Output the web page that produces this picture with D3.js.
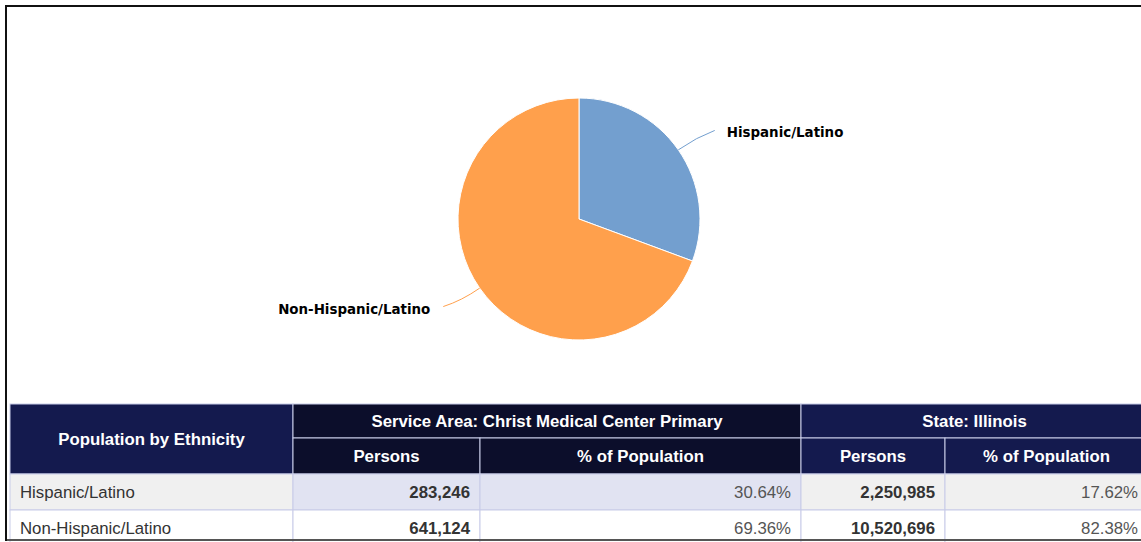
<!DOCTYPE html>
<html><head><meta charset="utf-8">
<script src="https://cdn.jsdelivr.net/npm/d3@7"></script>
<style>
html,body{margin:0;padding:0;background:#fff;}
svg{display:block;}
</style></head>
<body>
<svg id="chart" width="1141" height="542"></svg>
<script>
// ---- data ----
const categories = ["Hispanic/Latino", "Non-Hispanic/Latino"];
const servicePersons = [283246, 641124];
const servicePct = ["30.64%", "69.36%"];
const statePersons = [2250985, 10520696];
const statePct = ["17.62%", "82.38%"];
const sliceColors = ["#739fcf", "#ffa04c"];
const headerTitle = "Population by Ethnicity";
const groupHeaders = ["Service Area: Christ Medical Center Primary", "State: Illinois"];
const subHeaders = ["Persons", "% of Population", "Persons", "% of Population"];

const svg = d3.select("#chart");
const W = 1141, H = 542;

// outer frame
svg.append("rect").attr("x", 6).attr("y", 6).attr("width", W + 20).attr("height", 534)
  .attr("fill", "#fff").attr("stroke", "#111").attr("stroke-width", 2);

// ---- pie ----
const cx = 579, cy = 219, R = 121;
const pie = d3.pie().sort(null).value(d => d)(servicePersons);
const arc = d3.arc().innerRadius(0).outerRadius(R);
const g = svg.append("g").attr("transform", `translate(${cx},${cy})`);
g.selectAll("path.slice").data(pie).join("path").attr("class", "slice")
  .attr("d", arc).attr("fill", (d, i) => sliceColors[i])
  .attr("stroke", "#fff").attr("stroke-width", 1).attr("stroke-linejoin", "round");

// connectors + labels
pie.forEach((d, i) => {
  const a = (d.startAngle + d.endAngle) / 2;
  const sx = Math.sin(a), sy = -Math.cos(a);
  const p0 = [R * sx, R * sy];
  const right = sx > 0;
  const c1 = [(R + 22) * sx, (R + 22) * sy];
  const p1 = [(R + 20) * sx + (right ? 20 : -20), (R + 20) * sy + (right ? -8 : 7)];
  g.append("path")
    .attr("d", `M${p0[0]},${p0[1]} Q${c1[0]},${c1[1]} ${p1[0]},${p1[1]}`)
    .attr("fill", "none").attr("stroke", sliceColors[i]).attr("stroke-width", 1);
  g.append("text")
    .attr("x", p1[0] + (right ? 12 : -13)).attr("y", p1[1] + 7)
    .attr("text-anchor", right ? "start" : "end")
    .attr("font-family", "DejaVu Sans").attr("font-weight", "bold").attr("font-size", 13.4)
    .attr("fill", "#000").text(categories[i]);
});

// ---- table ----
const colX = [10, 293, 480, 801, 945, 1148];
const rowY = [404, 438, 474, 510, 546];
const navy = "#141a4e", darker = "#0c0e2b", gridC = "#c8cbe8";
const t = svg.append("g").attr("font-family", "Liberation Sans, Arial, sans-serif").attr("font-size", 16.8);

function cell(x0, x1, y0, y1, fill) {
  t.append("rect").attr("x", x0).attr("y", y0).attr("width", x1 - x0).attr("height", y1 - y0)
    .attr("fill", fill).attr("stroke", gridC).attr("stroke-width", 1);
}
function txt(x, y, s, anchor, weight, color) {
  t.append("text").attr("x", x).attr("y", y).attr("text-anchor", anchor)
    .attr("font-weight", weight).attr("fill", color).text(s);
}
// header
cell(colX[0], colX[1], rowY[0], rowY[2], navy);
txt((colX[0] + colX[1]) / 2, (rowY[0] + rowY[2]) / 2 + 6, headerTitle, "middle", "bold", "#fff");
cell(colX[1], colX[3], rowY[0], rowY[1], darker);
txt((colX[1] + colX[3]) / 2, (rowY[0] + rowY[1]) / 2 + 6, groupHeaders[0], "middle", "bold", "#fff");
cell(colX[3], colX[5], rowY[0], rowY[1], navy);
txt((colX[3] + colX[5]) / 2, (rowY[0] + rowY[1]) / 2 + 6, groupHeaders[1], "middle", "bold", "#fff");
subHeaders.forEach((s, j) => {
  cell(colX[j + 1], colX[j + 2], rowY[1], rowY[2], j < 2 ? darker : navy);
  txt((colX[j + 1] + colX[j + 2]) / 2, (rowY[1] + rowY[2]) / 2 + 6, s, "middle", "bold", "#fff");
});
const fmt = d3.format(",");
categories.forEach((c, i) => {
  const y0 = rowY[i + 2], y1 = rowY[i + 3], ty = (y0 + y1) / 2 + 6;
  const alt = i === 0;
  cell(colX[0], colX[1], y0, y1, alt ? "#f0f0f0" : "#fff");
  cell(colX[1], colX[2], y0, y1, alt ? "#e1e3f2" : "#fff");
  cell(colX[2], colX[3], y0, y1, alt ? "#e1e3f2" : "#fff");
  cell(colX[3], colX[4], y0, y1, alt ? "#f0f0f0" : "#fff");
  cell(colX[4], colX[5], y0, y1, alt ? "#f0f0f0" : "#fff");
  txt(colX[0] + 10, ty, c, "start", "normal", "#333");
  txt(colX[2] - 10, ty, fmt(servicePersons[i]), "end", "bold", "#333");
  txt(colX[3] - 10, ty, servicePct[i], "end", "normal", "#555");
  txt(colX[4] - 10, ty, fmt(statePersons[i]), "end", "bold", "#333");
  txt(colX[5] - 10, ty, statePct[i], "end", "normal", "#555");
});
// frame lines on top
svg.append("line").attr("x1", 6).attr("x2", W).attr("y1", 540).attr("y2", 540)
  .attr("stroke", "#555").attr("stroke-width", 2);
svg.append("line").attr("x1", 6).attr("x2", 6).attr("y1", 6).attr("y2", 541)
  .attr("stroke", "#111").attr("stroke-width", 2);
</script>
</body></html>
